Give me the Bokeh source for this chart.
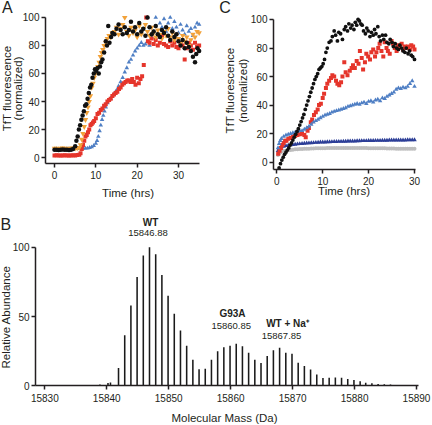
import math
from bokeh.plotting import figure
from bokeh.layouts import column, row
from bokeh.models import Label, Range1d, FixedTicker
from bokeh.embed import file_html
from bokeh.resources import INLINE

# ---------------- Panel A data (time in hrs, ThT fluorescence normalized) ----------------
A_black_t = [0, 0.5, 1, 1.5, 2, 2.5, 3, 3.5, 4, 4.5,
             5.0, 5.3, 5.6, 5.9, 6.2, 6.5, 6.8, 7.1, 7.4, 7.7,
             8.0, 8.3, 8.6, 8.9, 9.2, 9.5, 9.8, 10.1, 10.4, 10.7,
             11.0, 11.3, 11.6,
             12.0, 12.4, 12.7, 13.0, 13.3, 13.7, 14.0,
             14.5, 15.0, 15.5, 16.0, 16.5, 17.0, 17.5, 18.0, 18.5, 19.0,
             19.5, 20.0, 20.5, 21.0, 21.5, 22.0, 22.5, 23.0, 23.5, 24.0,
             24.5, 25.0, 25.5, 26.0, 26.5, 27.0, 27.5, 28.0, 28.5, 29.0,
             29.5, 30.0, 30.5, 31.0, 31.5, 32.0, 32.5, 33.0, 33.5, 34.0,
             34.3, 34.6, 35.0]
A_black_v = [5.5, 5.6, 5.4, 5.5, 5.7, 5.5, 5.6, 5.4, 5.6, 6.0,
             8, 12, 15, 20, 23, 27, 30, 33, 37, 38,
             42, 46, 50, 52, 57, 60, 63, 62, 64, 60,
             65, 68, 70,
             75, 83, 80, 94, 82, 86, 89,
             88, 92, 95, 91, 88, 93, 89, 91, 97, 90,
             93, 88, 96, 90, 92, 87, 100, 93, 88, 90,
             94, 88, 86, 91, 89, 93, 87, 84, 90, 86,
             88, 83, 80, 84, 78, 82, 79, 76, 72, 68,
             74, 78, 76]

A_orange_t = [0, 0.5, 1, 1.5, 2, 2.5, 3, 3.5, 4, 4.5, 5, 5.5, 6,
              6.3, 6.6, 6.9, 7.2, 7.5, 7.8, 8.1, 8.4, 8.7, 9.0,
              9.3, 9.6, 9.9, 10.2, 10.5, 10.8, 11.1, 11.4, 11.7, 12.0,
              12.4, 12.8, 13.2, 13.6, 14.0,
              14.5, 15.0, 15.5, 16.0, 16.5, 17.0, 17.5, 18.0, 18.5, 19.0,
              19.5, 20.0, 20.5, 21.0, 21.5, 22.0, 22.5, 23.0, 23.5, 24.0,
              24.5, 25.0, 25.5, 26.0, 26.5, 27.0, 27.5, 28.0, 28.5, 29.0,
              29.5, 30.0, 30.5, 31.0, 31.5, 32.0, 32.5, 33.0, 33.5, 34.0,
              34.5, 35.0]
A_orange_v = [6.5, 6.6, 6.4, 6.5, 6.7, 6.5, 6.4, 6.6, 6.5, 6.7, 6.5, 6.8, 7.0,
              9, 13, 17, 22, 27, 32, 36, 40, 44, 50,
              53, 57, 60, 63, 65, 68, 72, 75, 77, 80,
              82, 85, 87, 86, 89,
              90, 93, 88, 92, 95, 100, 90, 87, 93, 89,
              91, 86, 94, 88, 92, 95, 90, 87, 93, 89,
              86, 91, 88, 85, 90, 87, 92, 86, 89, 84,
              88, 85, 82, 87, 83, 86, 80, 84, 88, 86,
              90, 89]

A_red_t = [0, 0.5, 1, 1.5, 2, 2.5, 3, 3.5, 4, 4.5, 5, 5.5, 6,
           6.3, 6.6, 6.9, 7.2, 7.5, 7.8, 8.1, 8.4, 8.7, 9.0,
           9.3, 9.6, 10.0, 10.4, 10.8, 11.2, 11.6, 12.0, 12.4, 12.8,
           13.2, 13.6, 14.0, 14.4, 14.8, 15.2, 15.6, 16.0, 16.4, 16.8,
           17.2, 17.6, 18.0, 18.4, 18.8, 19.2, 19.6, 20.0, 20.4, 20.8,
           21.2, 21.6, 22.2, 22.6,
           23.0, 23.5, 24.0, 24.5, 25.0, 25.5, 26.0, 26.5, 27.0, 27.5,
           28.0, 28.5, 29.0, 29.5, 30.0, 30.5, 31.0, 31.5, 32.0, 32.5,
           33.0, 33.5, 34.0, 34.5, 35.0]
A_red_v = [1.5, 1.6, 1.4, 1.5, 1.5, 1.6, 1.5, 1.4, 1.5, 1.6, 1.5, 1.7, 2.0,
           3, 6, 9, 12, 15, 16, 18, 20, 23, 24,
           25, 26, 28, 31, 32, 34, 35, 37, 38, 40,
           41, 42, 44, 45, 46, 47, 49, 50, 52, 53,
           54, 55, 55, 54, 56, 54, 52, 57, 53, 56,
           58, 66, 100, 83,
           82, 85, 81, 84, 80, 82, 87, 81, 80, 79,
           83, 80, 82, 79, 78, 81, 80, 70, 78, 82,
           80, 77, 82, 79, 80]

A_blue_t = [0, 0.5, 1, 1.5, 2, 2.5, 3, 3.5, 4, 4.5, 5, 5.5, 6, 6.5, 7, 7.5, 8,
            8.5, 9.0, 9.5, 10.0, 10.3, 10.6, 10.9, 11.2, 11.5, 11.8,
            12.1, 12.4, 12.8, 13.2, 13.6, 14.0, 14.5, 15.0, 15.5, 16.0,
            16.5, 17.0, 17.5, 18.0, 18.5, 19.0, 19.5, 20.0, 20.5, 21.0,
            21.5, 22.0, 22.5, 23.0, 23.5, 24.0, 24.5, 25.0, 25.5, 26.0,
            26.5, 27.0, 27.5, 28.0, 28.5, 29.0, 29.5, 30.0, 30.5, 31.0,
            31.5, 32.0, 32.5, 33.0, 33.5, 34.0, 34.5, 35.0]
A_blue_v = [6.0, 6.1, 5.9, 6.0, 6.1, 6.0, 6.2, 6.1, 6.2, 6.3, 6.2, 6.4, 6.3, 6.5, 6.4, 6.6, 6.6,
            7, 7.5, 8.5, 10, 12, 15, 19, 23, 27, 30,
            33, 36, 39, 41, 42, 44, 46, 48, 51, 54,
            57, 61, 64, 68, 70, 73, 76, 78, 80, 82,
            80, 81, 100, 80, 86, 90, 100, 87, 96, 93,
            99, 90, 96, 100, 92, 97, 93, 89, 95, 91,
            88, 94, 90, 92, 87, 93, 96, 95]

# ---------------- Panel C data ----------------
C_black_t = [0.5, 0.8, 1.1, 1.4, 1.7, 2.0, 2.3, 2.6, 2.9, 3.2,
             3.5, 3.8, 4.1, 4.4, 4.7, 5.0, 5.3, 5.6, 5.9, 6.2,
             6.5, 6.8, 7.1, 7.4, 7.7, 8.0, 8.3, 8.6, 8.9, 9.2,
             9.5, 9.8, 10.1, 10.4, 10.7, 11.0, 11.4, 11.8, 12.1, 12.5,
             12.8, 13.2, 13.5, 13.9, 14.3, 14.7, 15.0, 15.4, 15.7, 16.1,
             16.4, 16.8, 17.1, 17.4, 17.7, 18.0, 18.3, 18.6, 18.9, 19.3,
             19.6, 19.9, 20.3, 20.6, 21.0, 21.3, 21.6, 22.0, 22.3, 22.6,
             23.0, 23.3, 23.7, 24.0, 24.4, 24.7, 25.1, 25.4, 25.8, 26.1,
             26.5, 26.8, 27.2, 27.5, 27.9, 28.2, 28.6, 28.9, 29.3, 29.6,
             30.0]
C_black_v = [-4, -1, 1.5, 3.5, 5.5, 7, 8.5, 10, 12, 13.5,
             15.5, 17.5, 19.5, 21.5, 23.5, 26, 28.5, 31, 33.5, 37,
             40, 43, 46, 49, 52, 55, 58, 60, 62, 65,
             66, 67, 69, 72, 77, 80, 84, 85, 88, 92,
             89, 85, 91, 90, 86, 93, 95, 92, 97, 94,
             96, 93, 98, 96, 100, 99, 97, 96, 92, 90,
             94, 92, 88, 91, 89, 93, 90, 95, 88, 85,
             89, 86, 89, 84, 83, 86, 84, 81, 83, 80,
             79, 82, 80, 78, 77, 80, 76, 78, 75, 74,
             72]

C_red_t = [0.3, 0.6, 0.9, 1.2, 1.5, 1.8, 2.1, 2.5, 3.0, 3.5,
           4.0, 4.5, 5.0, 5.5, 6.0, 6.3, 6.7, 7.0, 7.4, 7.7,
           8.1, 8.5, 8.9, 9.2, 9.6, 10.0, 10.3, 10.7, 11.0, 11.4,
           11.8, 12.1, 12.5, 12.9, 13.2, 13.6, 14.0, 14.3, 14.7, 15.0,
           15.4, 15.9, 16.3, 16.6, 17.0, 17.4, 17.8, 18.1, 18.5, 18.8,
           19.2, 19.5, 19.9, 20.3, 20.6, 21.0, 21.4, 21.7, 22.1, 22.4,
           22.8, 23.2, 23.5, 23.9, 24.2, 24.6, 25.0, 25.3, 25.7, 26.1,
           26.4, 26.8, 27.2, 27.5, 27.9, 28.2, 28.6, 29.0, 29.3, 29.7,
           30.0]
C_red_v = [6, 8, 10, 12, 13.5, 15, 15, 16.5, 17, 18,
           18.5, 19, 19.5, 20, 19, 17.5, 22, 24, 28, 30,
           33, 35, 37, 40, 41, 45, 48, 52, 55, 57,
           59, 61, 60, 57, 55, 54, 56, 60, 70, 63,
           61, 64, 66, 68, 66, 71, 69, 78, 73, 65,
           70, 76, 74, 72, 77, 79, 74, 77, 80, 83,
           78, 74, 84, 80, 78, 76, 85, 83, 80, 78,
           82, 81, 83, 79, 81, 80, 81, 79, 82, 81,
           79]

C_dense_t = [0.25, 0.5, 0.75, 1.0,
             1.5, 2.0, 2.5, 3.0, 3.5, 4.0, 4.5, 5.0, 5.5, 6.0,
             6.5, 7.0, 7.5, 8.0, 8.5, 9.0, 9.5, 10.0, 10.5, 11.0,
             11.5, 12.0, 12.5, 13.0, 13.5, 14.0, 14.5, 15.0, 15.5, 16.0,
             16.5, 17.0, 17.5, 18.0, 18.5, 19.0, 19.5, 20.0, 20.5, 21.0,
             21.5, 22.0, 22.5, 23.0, 23.5, 24.0, 24.5, 25.0, 25.5, 26.0,
             26.5, 27.0, 27.5, 28.0, 28.5, 29.0, 29.5, 30.0]
C_lightblue_v = [10, 13, 15, 16.5,
                 18, 19, 19.5, 20, 20.5, 21, 21.5, 22, 22, 23,
                 24, 25, 26.5, 28, 29, 30, 31, 32, 33, 33.5,
                 34, 35, 35.5, 36, 36.5, 37, 37.5, 38, 39, 39.5,
                 40, 40.5, 41, 40.5, 41.5, 42, 41, 42.5, 43, 42,
                 43.5, 44, 43, 45, 44.5, 46, 47, 48, 49, 51,
                 52, 51.5, 52.5, 52, 53, 55, 57, 53]
C_navy_v = [8, 9.5, 10.2, 10.7,
            11, 11.5, 11.8, 12, 12.2, 12.5, 12.7, 12.9, 13, 13.2,
            13.3, 13.4, 13.5, 13.6, 13.8, 13.9, 14, 14, 14.1, 14.2,
            14.2, 14.3, 14.4, 14.4, 14.5, 14.5, 14.6, 14.6, 14.7, 14.7,
            14.8, 14.8, 14.9, 14.9, 15, 15, 15, 15.1, 15.1, 15.1,
            15.2, 15.2, 15.2, 15.3, 15.3, 15.3, 15.4, 15.4, 15.4, 15.4,
            15.5, 15.5, 15.5, 15.5, 15.6, 15.6, 15.6, 15.6]
C_gray_v = [5, 6, 6.8, 7.3,
            7.8, 8.1, 8.4, 8.6, 8.8, 9, 9.1, 9.2, 9.3, 9.4,
            9.5, 9.5, 9.6, 9.6, 9.7, 9.7, 9.8, 9.8, 9.8, 9.9,
            9.9, 9.9, 10, 10, 10, 10, 10, 10, 10, 10,
            10, 10, 10, 9.9, 9.9, 9.9, 9.9, 9.8, 9.8, 9.8,
            9.8, 9.7, 9.7, 9.7, 9.7, 9.6, 9.6, 9.6, 9.6, 9.5,
            9.5, 9.5, 9.5, 9.5, 9.4, 9.4, 9.4, 9.4]

# ---------------- Panel B data (mass spectrum) ----------------
B_mass = [15837.9, 15838.9, 15840.2, 15840.6,
          15841.9, 15842.9, 15843.9, 15844.9, 15845.9, 15846.9, 15847.9, 15848.9, 15849.9, 15850.9,
          15851.9, 15852.9, 15853.9, 15854.9, 15855.9, 15856.9, 15857.9, 15858.9, 15859.9, 15860.9,
          15861.9, 15862.9, 15863.9, 15864.9, 15865.9, 15866.9, 15867.9, 15868.9, 15869.9, 15870.9,
          15871.9, 15872.9, 15873.9, 15874.9, 15875.9, 15876.9, 15877.9, 15878.9, 15879.9, 15880.9,
          15881.8, 15882.8, 15883.8, 15884.8, 15885.8]
B_abund = [0.8, 1.1, 2.2, 2.6,
           13, 36.5, 58, 78.5, 94, 100, 95, 80, 65, 52,
           40, 29, 19, 12, 12.5, 19, 25, 28, 29, 30.5,
           28.6, 24, 19, 16.6, 21.6, 25.7, 27.6, 24, 23.3, 16.8,
           14.4, 11.8, 8.2, 5.8, 6, 6.2, 6, 5, 4.3, 3.5,
           2.4, 1.9, 1.4, 1.2, 1.0]

A_xticks = [0, 10, 20, 30]
A_yticks = [0, 20, 40, 60, 80, 100]
B_xticks = [15830, 15840, 15850, 15860, 15870, 15880, 15890]
B_yticks = [0, 50, 100]

peak_labels = [("WT", "15846.88"), ("G93A", "15860.85"), ("WT + Na\u207a", "15867.85")]

FONT = "Liberation Sans"
TXT = "#231f20"


def make_fig(w, h, xr, yr, xloc, yloc, xticks, yticks, xb, yb):
    # frame covers the whole figure; axes are pinned at fixed data locations
    p = figure(width=w, height=h, x_range=Range1d(*xr), y_range=Range1d(*yr),
               output_backend="svg", toolbar_location=None,
               min_border_left=0, min_border_right=0,
               min_border_top=0, min_border_bottom=0)
    p.outline_line_color = None
    p.xgrid.visible = False
    p.ygrid.visible = False
    p.background_fill_color = "white"
    p.border_fill_color = "white"
    xa, ya = p.xaxis[0], p.yaxis[0]
    xa.ticker = FixedTicker(ticks=xticks)
    ya.ticker = FixedTicker(ticks=yticks)
    xa.bounds = xb
    ya.bounds = yb
    xa.fixed_location = xloc
    ya.fixed_location = yloc
    for ax in (xa, ya):
        ax.axis_line_width = 1.5
        ax.axis_line_color = TXT
        ax.major_tick_line_width = 1.5
        ax.major_tick_line_color = TXT
        ax.major_tick_in = 0
        ax.major_tick_out = 4
        ax.minor_tick_line_color = None
        ax.major_label_text_font = FONT
        ax.major_label_text_font_size = "10px"
        ax.major_label_text_color = TXT
        ax.major_label_standoff = 2
    xa.major_label_standoff = 3
    return p


def txt(p, x, y, text, size, angle=0.0, bold=False):
    p.add_layout(Label(x=x, y=y, text=text, text_font=FONT, text_font_size=size,
                       angle=angle, text_align="center", text_baseline="middle",
                       text_font_style="bold" if bold else "normal", text_color=TXT))


# ---------------- Panel A ----------------
pA = make_fig(216, 200, (-13.07, 39.20), (-30.71, 112.14), -4.29, -2.18,
              A_xticks, A_yticks, (-2.18, 35.08), (-4.29, 100))
pA.scatter(A_blue_t, A_blue_v, marker="triangle", size=4.5, fill_color="#4F7FC4", line_color=None)
pA.scatter(A_red_t, A_red_v, marker="square", size=4, fill_color="#E5352B", line_color=None)
pA.scatter(A_orange_t, A_orange_v, marker="inverted_triangle", size=5.5, fill_color="#F2A23A", line_color=None)
pA.scatter(A_black_t, A_black_v, marker="circle", size=4.5, fill_color="#111111", line_color=None)
txt(pA, 17.8, -25.5, "Time (hrs)", "11.5px")
txt(pA, -11.49, 49.3, "TfT fluorescence", "11.5px", angle=math.pi / 2)
txt(pA, -8.83, 49.3, "(normalized)", "11.5px", angle=math.pi / 2)
txt(pA, -11.44, 107.0, "A", "16px")

# ---------------- Panel C ----------------
pC = make_fig(216, 200, (-13.14, 33.92), (-26.84, 113.31), -5.12, -0.72,
              A_xticks, A_yticks, (-0.72, 30.22), (-5.12, 100))
pC.scatter(C_dense_t, C_gray_v, marker="circle", size=4, fill_color="#BDBDBD", line_color=None)
pC.scatter(C_dense_t, C_navy_v, marker="triangle", size=4.5, fill_color="#2C3E97", line_color=None)
pC.scatter(C_red_t, C_red_v, marker="square", size=4, fill_color="#E5352B", line_color=None)
pC.scatter(C_dense_t, C_lightblue_v, marker="triangle", size=4.5, fill_color="#4F7FC4", line_color=None)
pC.scatter(C_black_t, C_black_v, marker="circle", size=3.8, fill_color="#111111", line_color=None)
txt(pC, 14.64, -20.5, "Time (hrs)", "11.5px")
txt(pC, -10.09, 50.2, "TfT fluorescence", "11.5px", angle=math.pi / 2)
txt(pC, -7.47, 50.2, "(normalized)", "11.5px", angle=math.pi / 2)
txt(pC, -11.3, 108.6, "C", "16px")

# ---------------- Panel B ----------------
pB = make_fig(432, 225, (15822.85, 15892.58), (-28.46, 133.65), 0, 15828.5,
              B_xticks, B_yticks, (15828.5, 15890.32), (0, 100))
pB.xaxis[0].major_label_standoff = 4
pB.vbar(x=B_mass, top=B_abund, bottom=0, width=0.25, fill_color="#1a1a1a", line_color=None)
txt(pB, 15859.0, -23.4, "Molecular Mass (Da)", "11.5px")
txt(pB, 15823.74, 49.7, "Relative Abundance", "11.5px", angle=math.pi / 2)
txt(pB, 15823.7, 116.5, "B", "16px")
label_pos = [(15847.06, 118.0, 15846.66, 109.9),
             (15860.30, 52.4, 15860.09, 42.9),
             (15869.18, 45.2, 15868.21, 35.7)]
for (name, mass), (x1, y1, x2, y2) in zip(peak_labels, label_pos):
    txt(pB, x1, y1, name, "10px", bold=True)
    txt(pB, x2, y2, mass, "9.5px")

layout = column(row(pA, pC), pB)
open("out.html", "w").write(file_html(layout, INLINE))
